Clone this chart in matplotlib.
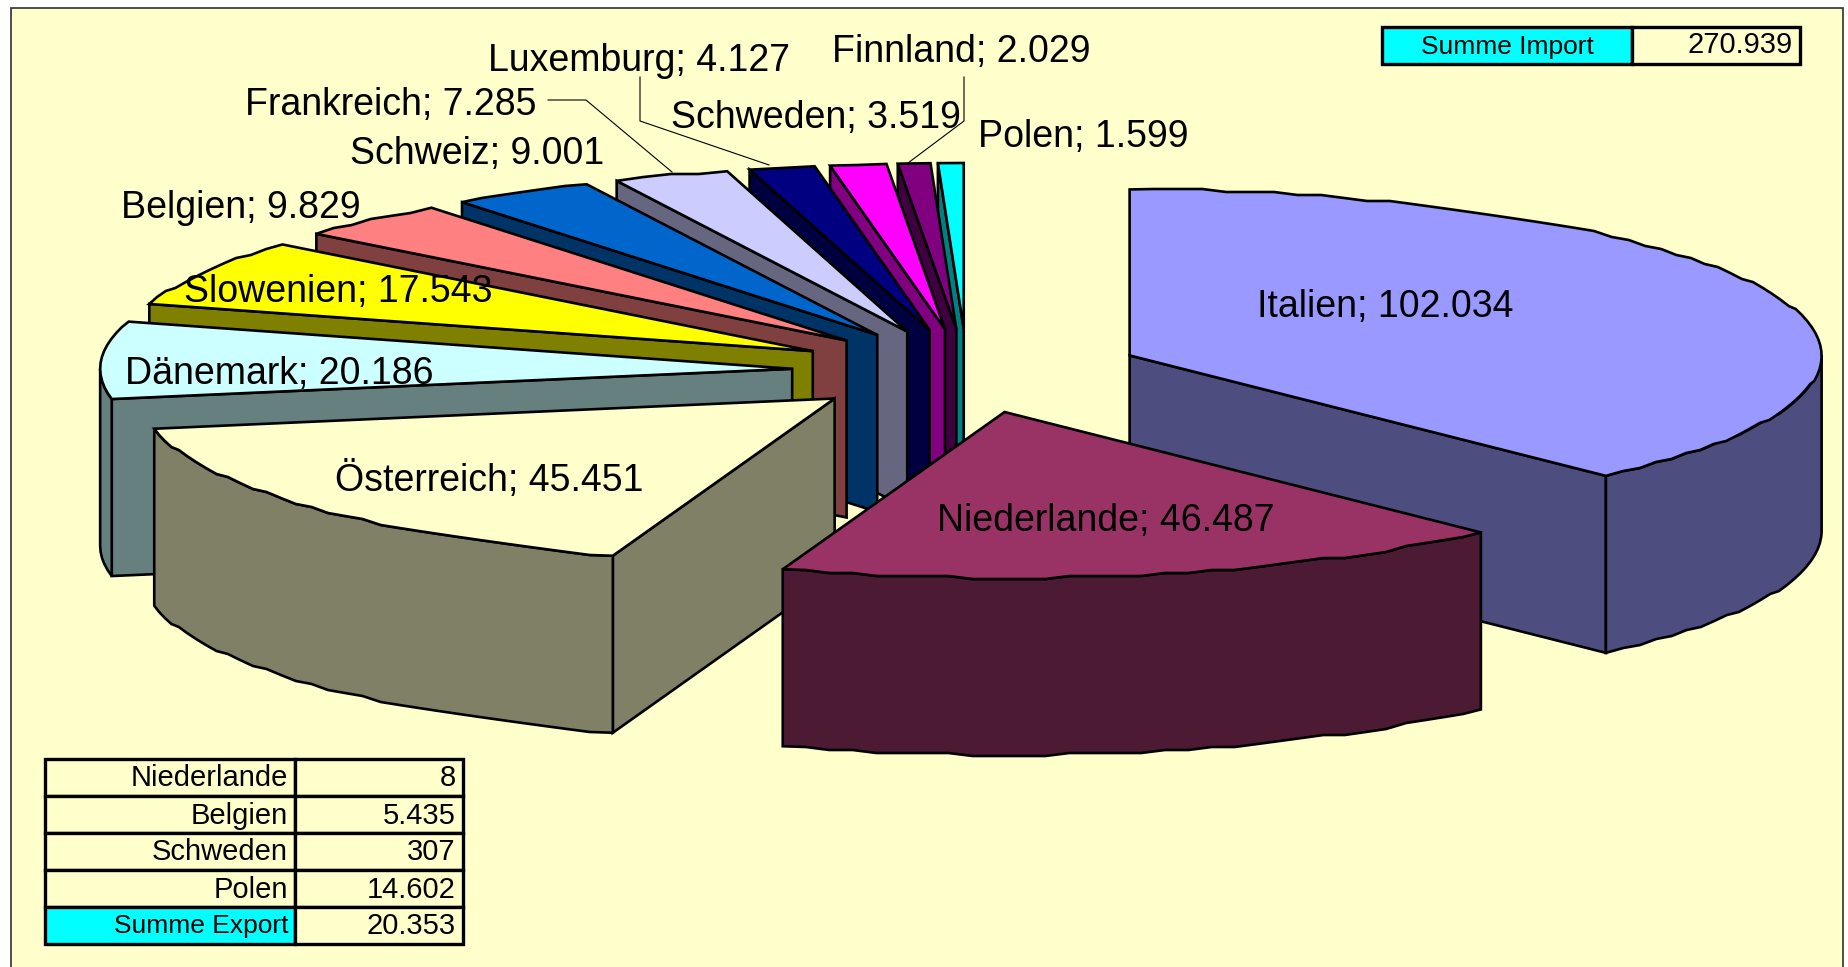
import numpy as np
import matplotlib
matplotlib.use('Agg')
import matplotlib.pyplot as plt
from matplotlib.patches import Polygon, Rectangle

plt.rcParams['font.family'] = ['Liberation Sans', 'DejaVu Sans']

# slices, clockwise from 12 o'clock
countries = ['Italien', 'Niederlande', 'Österreich', 'Dänemark', 'Slowenien', 'Belgien',
             'Schweiz', 'Frankreich', 'Luxemburg', 'Schweden', 'Finnland', 'Polen']
imports = [102.034, 46.487, 45.451, 20.186, 17.543, 9.829, 9.001, 7.285, 4.127, 3.519, 2.029, 1.599]
colors = ['#9999FF', '#993366', '#FFFFCC', '#CCFFFF', '#FFFF00', '#FF8080',
          '#0066CC', '#CCCCFF', '#000080', '#FF00FF', '#800080', '#00FFFF']

export_names = ['Niederlande', 'Belgien', 'Schweden', 'Polen', 'Summe Export']
export_values = ['8', '5.435', '307', '14.602', '20.353']
import_total_name = 'Summe Import'
import_total = '270.939'

# label placement, left edge and middle, in pixels
label_xy = [(1257, 307), (937, 521), (335, 480), (125, 374), (184, 292), (121, 208),
            (350, 154), (245, 105), (488, 61), (671, 118), (832, 52), (978, 137)]
leaders = [[(548, 100), (586, 100), (672, 172)],
           [(640, 77), (640, 121), (769, 165)],
           [(964, 77), (964, 121), (908, 163)]]

CX, CY = 967, 371
RX, RY = 692, 166
DEPTH = 177
EXPLODE = 0.253
LW = 1.9


def snap(pts):
    # old Excel export, the rims run in small flat steps
    pts = np.array(pts, dtype=float)
    pts[1:-1, 1] = np.round(pts[1:-1, 1] / 3) * 3
    return pts


def rim(c, a0, a1):
    n = max(2, int((a1 - a0) / 2) + 1)
    t = np.radians(np.linspace(a0, a1, n))
    return snap(np.column_stack([c[0] + RX * np.sin(t), c[1] - RY * np.cos(t)]))


def down(pts):
    return np.asarray(pts, dtype=float) + [0, DEPTH]


def radial_visible(apex, p, mid):
    n = np.array([-(p[1] - apex[1]), p[0] - apex[0]])
    if n @ (mid - apex) > 0:
        n = -n
    return n[1] > 1e-6


fig = plt.figure(figsize=(18.49, 9.67), dpi=100, facecolor='white')
ax = fig.add_axes([0, 0, 1, 1])
ax.set_xlim(0, 1849)
ax.set_ylim(967, 0)
ax.axis('off')

ax.add_patch(Rectangle((11, 8), 1832, 970, fc='#FFFFCC', ec='#303030', lw=1.2))

total = sum(imports)
ends = np.cumsum(imports) / total * 360
starts = np.concatenate([[0], ends[:-1]])
mids = (starts + ends) / 2

for i in np.argsort(-np.cos(np.radians(mids))):
    a0, a1, m = starts[i], ends[i], mids[i]
    apex = np.array([CX + EXPLODE * RX * np.sin(np.radians(m)),
                     CY - EXPLODE * RY * np.cos(np.radians(m))])
    top = rim(apex, a0, a1)
    mid_pt = np.array([apex[0] + RX * np.sin(np.radians(m)), apex[1] - RY * np.cos(np.radians(m))])
    side = tuple(c * 0.5 for c in matplotlib.colors.to_rgb(colors[i]))
    style = dict(fc=side, ec='black', lw=LW, joinstyle='miter')

    for p in (top[0], top[-1]):
        if radial_visible(apex, p, mid_pt):
            ax.add_patch(Polygon([apex, p, p + [0, DEPTH], apex + [0, DEPTH]], **style))

    lo, hi = max(a0, 90), min(a1, 270)
    if hi > lo:
        front = rim(apex, lo, hi)
        ax.add_patch(Polygon(np.vstack([front, down(front)[::-1]]), **style))

    ax.add_patch(Polygon(np.vstack([[apex], top]), fc=colors[i], ec='black', lw=LW, joinstyle='miter'))

for name, val, (x, y) in zip(countries, imports, label_xy):
    ax.text(x, y, f'{name}; {val:.3f}', fontsize=27, ha='left', va='center', color='black')

for line in leaders:
    xs, ys = zip(*line)
    ax.plot(xs, ys, color='black', lw=0.8)

# import total, top right
ax.add_patch(Rectangle((1382, 27), 250, 37, fc='#00FFFF', ec='black', lw=2.4))
ax.add_patch(Rectangle((1632, 27), 168, 37, fc='#FFFFCC', ec='black', lw=2.4))
ax.text(1507, 47, import_total_name, fontsize=19, ha='center', va='center')
ax.text(1793, 45, import_total, fontsize=21, ha='right', va='center')

# export table, bottom left
row_h = 37
for r, (name, val) in enumerate(zip(export_names, export_values)):
    y = 759 + r * row_h
    last = r == len(export_names) - 1
    ax.add_patch(Rectangle((45, y), 250, row_h, fc='#00FFFF' if last else '#FFFFCC', ec='black', lw=2.4))
    ax.add_patch(Rectangle((295, y), 168, row_h, fc='#FFFFCC', ec='black', lw=2.4))
    ax.text(288, y + row_h / 2 + 1, name, fontsize=19 if last else 21, ha='right', va='center')
    ax.text(456, y + row_h / 2 + 1, val, fontsize=21, ha='right', va='center')

fig.savefig('out.png', dpi=100)
